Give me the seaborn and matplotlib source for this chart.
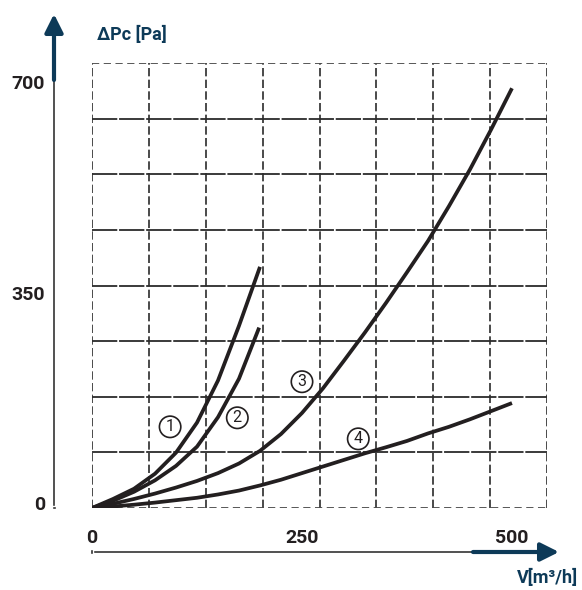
import matplotlib
matplotlib.use("Agg")
import numpy as np
import pandas as pd
import seaborn as sns
import matplotlib.pyplot as plt
from matplotlib.transforms import ScaledTranslation

# pressure drop curves (V in m3/h, dP in Pa)
x1 = [0, 25, 50, 75, 100, 125, 150, 175, 200]
y1 = [0, 15, 32, 57, 92, 142, 212, 303, 401]

x2 = [0, 25, 50, 75, 100, 125, 150, 175, 199]
y2 = [0, 12, 27, 46, 70, 102, 151, 215, 300]

x3 = [0, 25, 50, 75, 100, 125, 150, 175, 200, 225, 250,
      275, 300, 325, 350, 375, 400, 425, 450, 475, 500]
y3 = [0, 7, 15, 24, 34, 45, 58, 74, 95, 123, 158,
      199, 245, 292, 341, 392, 444, 502, 563, 629, 698]

x4 = [0, 25, 50, 75, 100, 125, 150, 175, 200, 225, 250,
      275, 300, 325, 350, 375, 400, 425, 450, 475, 500]
y4 = [0, 2.5, 5.5, 9, 13, 17, 22.5, 29, 37.5, 47, 58,
      69, 80, 91, 101, 111.5, 124, 135, 147.5, 161, 174.5]

curve_names = ["1", "2", "3", "4"]
label_x = [93, 173, 250, 317]
label_y = [135, 150, 210, 115]

x_ticks = [0, 250, 500]
y_ticks = [0, 350, 700]

navy = "#0d3a58"
ink = "#231f20"
grid_col = "#2b2b2b"

sns.set_style("white")
plt.rcParams["font.family"] = ["Roboto", "DejaVu Sans"]

fig = plt.figure(figsize=(5.82, 5.90), dpi=100)
W, H = 582, 590
ax = fig.add_axes([92 / W, (H - 508) / H, (547 - 92) / W, (508 - 63) / H])

xmax, ymax = 541.7, 740.0
ax.set_xlim(0, xmax)
ax.set_ylim(0, ymax)
for s in ax.spines.values():
    s.set_visible(False)

# grid: 8 x 8 cells, dashed verticals, near-solid horizontals
gx = np.linspace(0, xmax, 9)
gy = np.linspace(0, ymax, 9)
for v in gx:
    ax.axvline(v, color=grid_col, lw=1.2, ls=(0, (5, 2)), zorder=1)
for i, h in enumerate(gy):
    if i in (0, len(gy) - 1):
        ax.axhline(h, color="#4a4a4a", lw=1.3, ls=(0, (4, 2.5)), zorder=1)
    else:
        ax.axhline(h, color=grid_col, lw=1.3, ls=(0, (14, 1)), zorder=1)

curves = [(x1, y1), (x2, y2), (x3, y3), (x4, y4)]
rows = []
for name, (xs, ys) in zip(curve_names, curves):
    for a, b in zip(xs, ys):
        rows.append({"curve": name, "V": a, "dP": b})
df = pd.DataFrame(rows)

for name in curve_names:
    sub = df[df["curve"] == name]
    sns.lineplot(data=sub, x="V", y="dP", ax=ax, color=ink, lw=2.7,
                 sort=False, estimator=None, zorder=3,
                 solid_capstyle="butt", solid_joinstyle="round")

for name, lx, ly in zip(curve_names, label_x, label_y):
    ax.text(lx, ly, name, ha="center", va="center", fontsize=11.5, color=ink,
            zorder=4,
            bbox=dict(boxstyle="circle,pad=0.2", fc="white", ec=ink, lw=1.2))

ax.set_xlabel("")
ax.set_ylabel("")
ax.set_xticks(x_ticks)
ax.set_xticklabels([str(t) for t in x_ticks])
ax.set_yticks(y_ticks)
ax.set_yticklabels([str(t) for t in y_ticks])
ax.tick_params(axis="both", length=0, labelsize=14, colors=ink)
ax.tick_params(axis="x", pad=15)
ax.tick_params(axis="y", pad=34)
for lab in ax.get_xticklabels() + ax.get_yticklabels():
    lab.set_fontweight("bold")
shift = ScaledTranslation(0, 5 / 100, fig.dpi_scale_trans)
for lab in ax.get_yticklabels():
    lab.set_transform(lab.get_transform() + shift)

# axis arrows, drawn in figure pixels
def fp(x, y):
    return (x, H - y)

ax.annotate("", xy=fp(54, 508), xytext=fp(54, 78), xycoords="figure pixels",
            arrowprops=dict(arrowstyle="-", color="#333333", lw=1.2))
ax.annotate("", xy=fp(51, 508), xytext=fp(58, 508), xycoords="figure pixels",
            arrowprops=dict(arrowstyle="-", color="#333333", lw=1.2))
ax.annotate("", xy=fp(54, 14), xytext=fp(54, 80), xycoords="figure pixels",
            arrowprops=dict(arrowstyle="-|>,head_length=1.1,head_width=0.55",
                            color=navy, lw=3, shrinkA=0, shrinkB=0))

ax.annotate("", xy=fp(92, 552), xytext=fp(476, 552), xycoords="figure pixels",
            arrowprops=dict(arrowstyle="-", color="#333333", lw=1.2))
ax.annotate("", xy=fp(92, 548), xytext=fp(92, 556), xycoords="figure pixels",
            arrowprops=dict(arrowstyle="-", color="#333333", lw=1.2))
ax.annotate("", xy=fp(559, 552), xytext=fp(473, 552), xycoords="figure pixels",
            arrowprops=dict(arrowstyle="-|>,head_length=1.1,head_width=0.55",
                            color=navy, lw=3, shrinkA=0, shrinkB=0))

fig.text(97 / W, 1 - 35 / H, "ΔPc [Pa]", ha="left", va="center",
         fontsize=13, fontweight="bold", color=navy)
fig.text(578 / W, 1 - 578 / H, "V[m³/h]", ha="right", va="center",
         fontsize=13, fontweight="bold", color=navy)

fig.savefig("out.png", dpi=100)
